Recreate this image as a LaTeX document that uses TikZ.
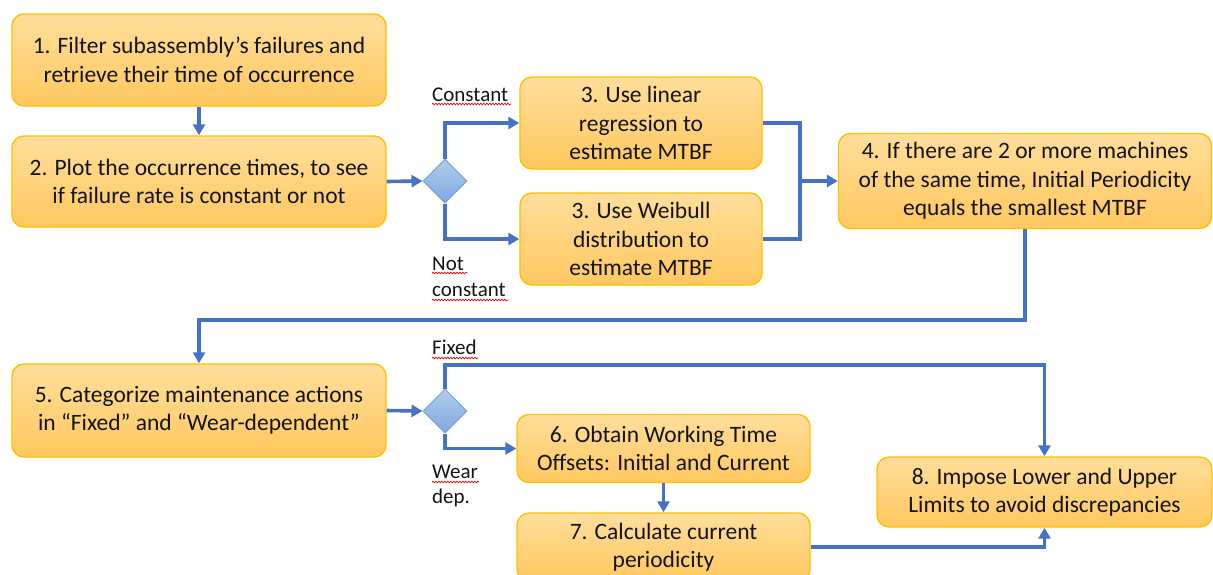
\documentclass[tikz,border=0pt]{standalone}
\usepackage{fontspec}
\setmainfont{Carlito}
\usetikzlibrary{arrows.meta,shapes.geometric,decorations.pathmorphing}
\definecolor{flowblue}{RGB}{68,114,196}
\definecolor{boxtop}{RGB}{255,222,155}
\definecolor{boxbot}{RGB}{255,200,95}
\definecolor{boxline}{RGB}{255,192,0}
\definecolor{diatop}{RGB}{176,204,236}
\definecolor{diabot}{RGB}{128,168,222}
\definecolor{dialine}{RGB}{120,160,215}
\definecolor{txt}{RGB}{20,20,20}
\tikzset{
  stepbox/.style={draw=boxline, line width=1.4pt, rounded corners=12pt,
    top color=boxtop, bottom color=boxbot, align=center, text=txt,
    inner sep=0pt, font=\fontsize{23.5}{28.5}\selectfont},
  decis/.style={diamond, draw=dialine, line width=1pt, top color=diatop,
    bottom color=diabot, minimum width=44pt, minimum height=44pt, inner sep=0pt},
  flow/.style={draw=flowblue, line width=3.6pt},
  flowarr/.style={flow, -{Triangle[length=11pt,width=12pt]}},
  lbl/.style={anchor=base west, inner sep=0pt, text=txt, font=\fontsize{21}{25.6}\selectfont},
  squig/.style={draw=red!85!black, line width=0.7pt, decorate,
    decoration={snake, segment length=3pt, amplitude=0.8pt}}
}
\begin{document}
\begin{tikzpicture}[x=1pt,y=-1pt]
\useasboundingbox (0,0) rectangle (1213,574);
\clip (0,0) rectangle (1213,574);
\node[stepbox, minimum width=374pt, minimum height=92pt] (b1) at (199,60)
  {1. Filter subassembly’s failures and\\retrieve their time of occurrence};
\node[stepbox, minimum width=374pt, minimum height=91pt] (b2) at (199,181.5)
  {2. Plot the occurrence times, to see\\if failure rate is constant or not};
\node[decis] (d1) at (445,181) {};
\node[stepbox, minimum width=242pt, minimum height=92pt] (b3a) at (641,123)
  {3. Use linear\\regression to\\estimate MTBF};
\node[stepbox, minimum width=242pt, minimum height=92pt] (b3b) at (641,239)
  {3. Use Weibull\\distribution to\\estimate MTBF};
\node[stepbox, minimum width=373pt, minimum height=95pt] (b4) at (1025,181)
  {4. If there are 2 or more machines\\of the same time, Initial Periodicity\\equals the smallest MTBF};
\node[stepbox, minimum width=374pt, minimum height=93pt] (b5) at (199,410.5)
  {5. Categorize maintenance actions\\in “Fixed” and “Wear-dependent”};
\node[decis] (d2) at (445,411) {};
\node[stepbox, minimum width=293pt, minimum height=68pt] (b6) at (663.5,448.5)
  {6. Obtain Working Time\\Offsets: Initial and Current};
\node[stepbox, minimum width=293pt, minimum height=68pt] (b7) at (663.5,547)
  {7. Calculate current\\periodicity};
\node[stepbox, minimum width=335pt, minimum height=70pt] (b8) at (1044.5,492)
  {8. Impose Lower and Upper\\Limits to avoid discrepancies};

% labels
\node[lbl] (lc) at (432,101) {Constant};
\node[lbl] (ln1) at (432,270) {Not};
\node[lbl] (ln2) at (432,296) {constant};
\node[lbl] (lf) at (432,354) {Fixed};
\node[lbl] (lw1) at (432,478) {Wear};
\node[lbl] (lw2) at (432,503) {dep.};
\draw[squig] (432,104) -- (511,104);
\draw[squig] (432,273) -- (467,273);
\draw[squig] (432,300) -- (508,300);
\draw[squig] (432,358) -- (478,358);
\draw[squig] (432,482) -- (479,482);

% coordinates
\coordinate (j1) at (800,181);
\coordinate (c1) at (0,320);
\coordinate (f1) at (0,365);

% connectors
\draw[flowarr] (b1.south) -- (b2.north);
\draw[flowarr] (b2.east) -- (d1.west);
\draw[flowarr] (d1.north) |- (b3a.west);
\draw[flowarr] (d1.south) |- (b3b.west);
\draw[flow] (b3a.east) -| (j1);
\draw[flow] (b3b.east) -| (j1);
\draw[flowarr] (j1) -- (b4.west);
\draw[flowarr] (b4.south) -- (b4.south |- c1) -| (b5.north);
\draw[flowarr] (b5.east) -- (d2.west);
\draw[flowarr] (d2.north) -- (d2.north |- f1) -| (b8.north);
\draw[flowarr] (d2.south) |- (b6.west);
\draw[flowarr] (b6.south) -- (b7.north);
\draw[flowarr] (b7.east) -| (b8.south);
\end{tikzpicture}
\end{document}
